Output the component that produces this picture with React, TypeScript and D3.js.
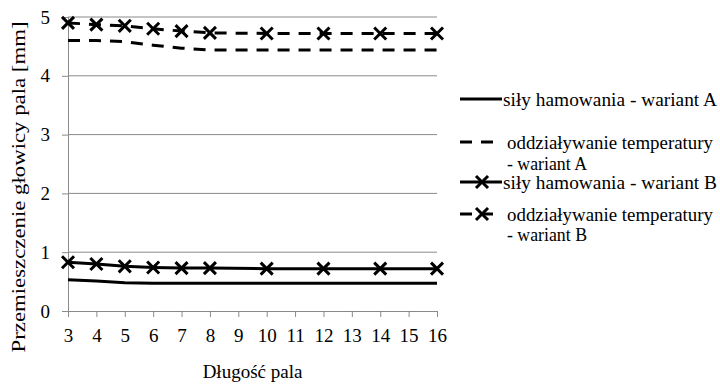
import React from 'react';
import * as d3 from 'd3';

// pile length [m] and head displacement [mm]
const lengths = [3, 4, 5, 6, 7, 8, 10, 12, 14, 16];
const brakingA = [0.53, 0.51, 0.48, 0.47, 0.47, 0.47, 0.47, 0.47, 0.47, 0.47];
const temperatureA = [4.6, 4.6, 4.58, 4.52, 4.47, 4.44, 4.44, 4.44, 4.44, 4.44];
const brakingB = [0.83, 0.8, 0.76, 0.74, 0.73, 0.73, 0.72, 0.72, 0.72, 0.72];
const temperatureB = [4.9, 4.87, 4.85, 4.8, 4.76, 4.73, 4.72, 4.72, 4.72, 4.72];
const xTicks = [3, 4, 5, 6, 7, 8, 9, 10, 11, 12, 13, 14, 15, 16];
const yTicks = [0, 1, 2, 3, 4, 5];

const seriesList = [
  { name: ['siły hamowania - wariant A'], values: brakingA, dashed: false, marker: false },
  { name: ['oddziaływanie temperatury', '- wariant A'], values: temperatureA, dashed: true, marker: false },
  { name: ['siły hamowania - wariant B'], values: brakingB, dashed: false, marker: true },
  { name: ['oddziaływanie temperatury', '- wariant B'], values: temperatureB, dashed: true, marker: true },
];
// legend rows (y of each text line) and measured text widths
const legendRows = [[99], [142, 163], [182], [214, 234]];
const legendWidths = [[214], [206, 80], [214], [206, 80]];

const FONT = 'Liberation Serif';

function App() {
  const parentRef = React.useRef<HTMLDivElement>(null);

  React.useEffect(() => {
    const width = 720, height = 386;
    const left = 68, right = 437, top = 17, bottom = 311;

    d3.select(parentRef.current).selectAll('*').remove();
    const svg = d3.select(parentRef.current)
      .append('svg')
      .attr('width', width)
      .attr('height', height)
      .attr('font-family', FONT)
      .style('position', 'absolute')
      .style('left', 0)
      .style('top', 0)
      .style('background', '#fff');

    const x = d3.scaleLinear().domain([3, 16]).range([left, right]);
    const y = d3.scaleLinear().domain([0, 5]).range([bottom, top]);

    // grid
    svg.append('g')
      .selectAll('line')
      .data(yTicks.filter(d => d > 0))
      .enter()
      .append('line')
      .attr('x1', left).attr('x2', right)
      .attr('y1', d => y(d)).attr('y2', d => y(d))
      .attr('stroke', '#8a8a8a').attr('stroke-width', 1);

    // y axis
    const yAxis = svg.append('g')
      .attr('transform', 'translate(' + left + ',0)')
      .call(d3.axisLeft(y).tickValues(yTicks).tickSize(6).tickPadding(12).tickFormat(d3.format('d')));
    yAxis.attr('font-family', FONT).attr('font-size', 19);
    yAxis.selectAll('line, path').attr('stroke', '#8a8a8a');
    yAxis.selectAll('text').attr('fill', '#000');

    // x axis
    const xAxis = svg.append('g')
      .attr('transform', 'translate(0,' + bottom + ')')
      .call(d3.axisBottom(x).tickValues(xTicks).tickSize(6).tickSizeOuter(0).tickPadding(12).tickFormat(d3.format('d')));
    xAxis.attr('font-family', FONT).attr('font-size', 19);
    xAxis.selectAll('line, path').attr('stroke', '#8a8a8a');
    xAxis.selectAll('text').attr('fill', '#000');

    // titles
    svg.append('text')
      .attr('x', (left + right) / 2)
      .attr('y', 378)
      .attr('text-anchor', 'middle')
      .attr('font-size', 19)
      .text('Długość pala');

    svg.append('text')
      .attr('transform', 'translate(25,187) rotate(-90)')
      .attr('text-anchor', 'middle')
      .attr('font-size', 19)
      .attr('textLength', 331)
      .attr('lengthAdjust', 'spacingAndGlyphs')
      .text('Przemieszczenie głowicy pala [mm]');

    const line = d3.line<number>()
      .x((d, i) => x(lengths[i]))
      .y(d => y(d));
    const cross = d3.symbol(d3.symbolX).size(96);

    seriesList.forEach((s, j) => {
      svg.append('path')
        .datum(s.values)
        .attr('d', line)
        .attr('fill', 'none')
        .attr('stroke', '#000')
        .attr('stroke-width', 3)
        .attr('stroke-dasharray', s.dashed ? '12,9' : null);

      if (s.marker) {
        svg.append('g')
          .selectAll('path')
          .data(s.values)
          .enter()
          .append('path')
          .attr('d', cross)
          .attr('transform', (d, i) => 'translate(' + x(lengths[i]) + ',' + y(d) + ')')
          .attr('fill', 'none')
          .attr('stroke', '#000')
          .attr('stroke-width', 3);
      }

      // legend
      const lg = svg.append('g');
      const ly = legendRows[j][0];
      lg.append('line')
        .attr('x1', 460).attr('x2', s.dashed ? 494 : 502)
        .attr('y1', ly).attr('y2', ly)
        .attr('stroke', '#000').attr('stroke-width', 3)
        .attr('stroke-dasharray', s.dashed ? '12,9' : null);
      if (s.marker) {
        lg.append('path')
          .attr('d', cross)
          .attr('transform', 'translate(482,' + ly + ')')
          .attr('fill', 'none').attr('stroke', '#000').attr('stroke-width', 3);
      }
      s.name.forEach((t, k) => {
        lg.append('text')
          .attr('x', s.dashed ? 507 : 503)
          .attr('y', legendRows[j][k])
          .attr('dy', '0.35em')
          .attr('font-size', 19)
          .attr('textLength', legendWidths[j][k])
          .attr('lengthAdjust', 'spacingAndGlyphs')
          .text(t);
      });
    });
  }, []);

  return <div ref={parentRef}></div>;
}

export default App;
